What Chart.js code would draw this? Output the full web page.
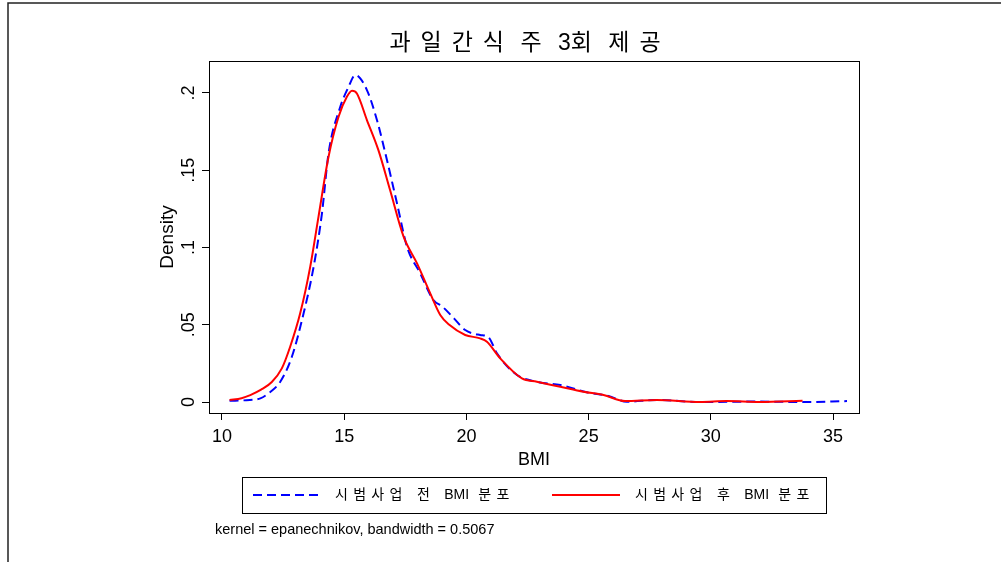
<!DOCTYPE html>
<html>
<head>
<meta charset="utf-8">
<script src="https://cdn.jsdelivr.net/npm/chart.js@4.4.1/dist/chart.umd.min.js"></script>
<style>
  html, body { margin: 0; padding: 0; background: #fff; }
</style>
</head>
<body>
<canvas id="kde" width="1001" height="562"></canvas>
<script>
// --- dati ---
const titleText = '과일간식 주 3회 제공';
const noteText = 'kernel = epanechnikov, bandwidth = 0.5067';
const seriesNames = ['시범사업 전 BMI 분포', '시범사업 후 BMI 분포'];
const xTitle = 'BMI';
const yTitle = 'Density';

const xTicks = [10, 15, 20, 25, 30, 35];
const yTicks = [0, 0.05, 0.1, 0.15, 0.2];
const yTickLabels = ['0', '.05', '.1', '.15', '.2'];

// prima (tratteggiata blu)
const bmiBefore = [10.31, 11.0, 11.57, 11.9, 12.38, 12.86, 13.34, 13.75, 14.09, 14.36, 14.84, 15.18, 15.45,
  15.93, 16.34, 16.75, 17.16, 17.57, 18.11, 18.65, 19.0, 19.5, 19.95, 20.56, 20.9, 21.25, 22.07, 22.88,
  23.84, 24.93, 25.81, 26.56, 27.79, 29.6, 31.9, 33.9, 35.57];
const densBefore = [0.0008, 0.0012, 0.0024, 0.0056, 0.013, 0.0293, 0.0574, 0.0875, 0.122, 0.161, 0.191, 0.204, 0.2116,
  0.2019, 0.1825, 0.1566, 0.1286, 0.1005, 0.0833, 0.066, 0.062, 0.054, 0.0466, 0.0434, 0.042, 0.0315, 0.0175, 0.0131,
  0.011, 0.0063, 0.0039, 0.0002, 0.0013, 0.0, 0.0003, 0.0, 0.0006];

// dopo (continua rossa)
const bmiAfter = [10.31, 10.8, 11.16, 11.6, 12.04, 12.45, 12.79, 13.2, 13.61, 13.95, 14.36, 14.77, 15.11, 15.32,
  15.52, 15.93, 16.4, 16.88, 17.43, 17.98, 18.52, 18.93, 19.3, 19.95, 20.56, 20.84, 21.38, 22.27, 22.88,
  23.84, 24.79, 25.61, 26.49, 27.79, 29.56, 30.65, 32.0, 33.75];
const densAfter = [0.0013, 0.0025, 0.0045, 0.008, 0.013, 0.0218, 0.0358, 0.0574, 0.0875, 0.12, 0.1587, 0.1846, 0.1975, 0.2014,
  0.1997, 0.1825, 0.163, 0.137, 0.107, 0.0897, 0.0703, 0.0563, 0.05, 0.0434, 0.0412, 0.039, 0.0283, 0.0153, 0.0131,
  0.0099, 0.0067, 0.0045, 0.0006, 0.0013, 0.0, 0.0006, 0.0, 0.0008];

const colors = { before: '#0000ff', after: '#ff0000' };
const FONT = '"Liberation Sans", Arial, "Noto Sans CJK KR", sans-serif';

const toPoints = (xs, ys) => xs.map((x, i) => ({ x: x, y: ys[i] }));

// testo con spaziatura larga sui caratteri hangul (come Stata)
const isHangul = ch => /[\uAC00-\uD7A3]/.test(ch);
function spacedWidth(ctx, text, extra, spaceExtra) {
  let w = 0;
  for (const ch of text) {
    w += ctx.measureText(ch).width;
    if (isHangul(ch)) w += extra;
    else if (ch === ' ') w += spaceExtra;
  }
  return w;
}
function drawSpaced(ctx, text, x, y, extra, spaceExtra) {
  let cx = x;
  ctx.textAlign = 'left';
  for (const ch of text) {
    ctx.fillText(ch, cx, y);
    cx += ctx.measureText(ch).width;
    if (isHangul(ch)) cx += extra;
    else if (ch === ' ') cx += spaceExtra;
  }
}

const decorPlugin = {
  id: 'decor',
  beforeDraw(chart) {
    const ctx = chart.ctx;
    ctx.save();
    ctx.fillStyle = '#fff';
    ctx.fillRect(0, 0, chart.width, chart.height);
    // cornice esterna
    ctx.strokeStyle = '#222';
    ctx.lineWidth = 1.5;
    ctx.beginPath();
    ctx.moveTo(1001, 3);
    ctx.lineTo(8, 3);
    ctx.lineTo(8, 562);
    ctx.stroke();
    ctx.restore();
  },
  afterDraw(chart) {
    const ctx = chart.ctx;
    const a = chart.chartArea;
    ctx.save();
    // bordo area grafico
    ctx.strokeStyle = '#000';
    ctx.lineWidth = 1;
    ctx.strokeRect(Math.round(a.left) + 0.5, Math.round(a.top) + 0.5,
      Math.round(a.right - a.left), Math.round(a.bottom - a.top));

    // titolo
    ctx.fillStyle = '#000';
    ctx.textBaseline = 'middle';
    ctx.font = '23px ' + FONT;
    const tw = spacedWidth(ctx, titleText, 10, 0);
    drawSpaced(ctx, titleText, 525 - tw / 2 + 5, 44, 10, 0);

    // legenda
    ctx.strokeStyle = '#000';
    ctx.lineWidth = 1;
    ctx.strokeRect(242.5, 477.5, 584, 36);
    const items = chart.data.datasets;
    const lx = [[253, 323, 335], [552, 620, 635]];
    ctx.font = '14px ' + FONT;
    items.forEach((ds, i) => {
      ctx.strokeStyle = ds.borderColor;
      ctx.lineWidth = 2;
      ctx.setLineDash(ds.borderDash || []);
      ctx.beginPath();
      ctx.moveTo(lx[i][0], 495);
      ctx.lineTo(lx[i][1], 495);
      ctx.stroke();
      ctx.setLineDash([]);
      ctx.fillStyle = '#000';
      drawSpaced(ctx, ds.label, lx[i][2], 495, 5.3, 5.3);
    });

    // nota
    ctx.font = '14.5px ' + FONT;
    ctx.textAlign = 'left';
    ctx.fillText(noteText, 215, 530);
    ctx.restore();
  }
};

new Chart(document.getElementById('kde'), {
  type: 'line',
  data: {
    datasets: [
      {
        label: seriesNames[0],
        data: toPoints(bmiBefore, densBefore),
        borderColor: colors.before,
        borderWidth: 2,
        borderDash: [9, 5],
        pointRadius: 0,
        cubicInterpolationMode: 'monotone',
        order: 2
      },
      {
        label: seriesNames[1],
        data: toPoints(bmiAfter, densAfter),
        borderColor: colors.after,
        borderWidth: 2,
        pointRadius: 0,
        cubicInterpolationMode: 'monotone',
        order: 1
      }
    ]
  },
  options: {
    responsive: false,
    animation: false,
    layout: { padding: { left: 150, top: 61, right: 142, bottom: 89 } },
    plugins: {
      legend: { display: false },
      title: { display: false },
      tooltip: { enabled: false }
    },
    scales: {
      x: {
        type: 'linear',
        min: 9.47, max: 36.06,
        afterBuildTicks: s => { s.ticks = xTicks.map(v => ({ value: v })); },
        afterFit: s => { s.height = 60; },
        border: { display: false },
        grid: { drawOnChartArea: false, drawTicks: true, tickLength: 7, color: '#000' },
        ticks: { color: '#000', padding: 6, font: { family: FONT, size: 18 }, maxRotation: 0 },
        title: { display: true, text: xTitle, color: '#000', font: { family: FONT, size: 18 }, padding: { top: 0, bottom: 2 } }
      },
      y: {
        min: -0.0071, max: 0.2207,
        afterBuildTicks: s => { s.ticks = yTicks.map(v => ({ value: v })); },
        afterFit: s => { s.width = 59; },
        border: { display: false },
        grid: { drawOnChartArea: false, drawTicks: true, tickLength: 7, color: '#000' },
        ticks: {
          color: '#000', padding: 0, crossAlign: 'center',
          minRotation: 90, maxRotation: 90,
          font: { family: FONT, size: 18 },
          callback: (v, i) => yTickLabels[i]
        },
        title: { display: true, text: yTitle, color: '#000', font: { family: FONT, size: 19 }, padding: { top: 6, bottom: 0 } }
      }
    }
  },
  plugins: [decorPlugin]
});
</script>
</body>
</html>
